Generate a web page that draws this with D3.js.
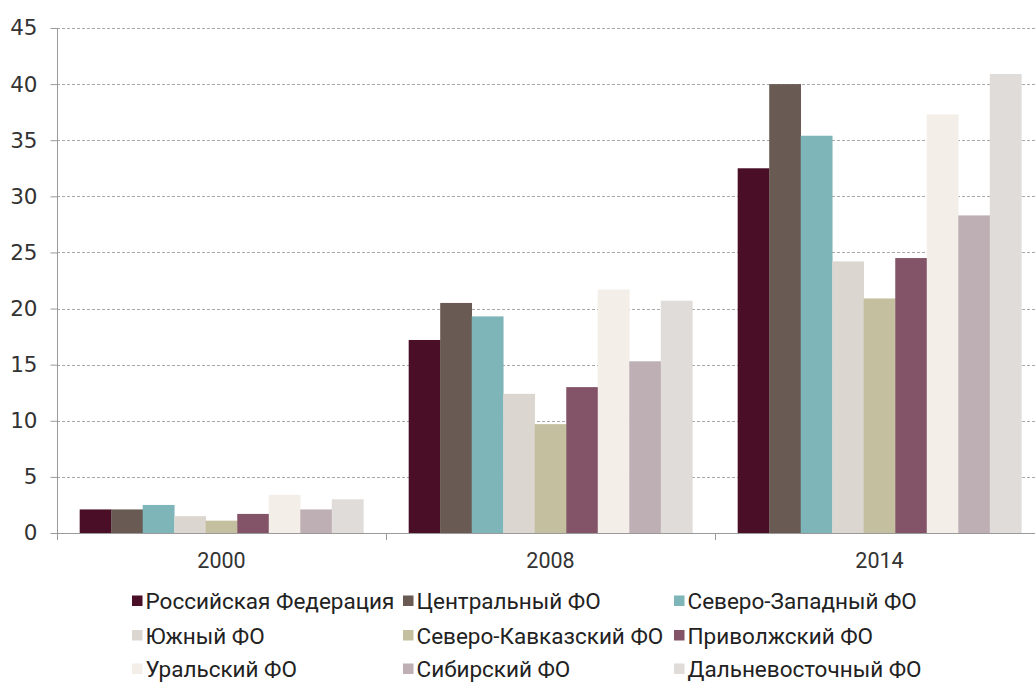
<!DOCTYPE html>
<html>
<head>
<meta charset="utf-8">
<script src="https://cdn.jsdelivr.net/npm/d3@7"></script>
<style>
  html, body { margin: 0; padding: 0; background: #fff; }
  svg { display: block; }
</style>
</head>
<body>
<svg id="chart" width="1035" height="683"></svg>
<script>
// ---- data ----
const years = ["2000", "2008", "2014"];
const regions = [
  "Российская Федерация", "Центральный ФО", "Северо-Западный ФО",
  "Южный ФО", "Северо-Кавказский ФО", "Приволжский ФО",
  "Уральский ФО", "Сибирский ФО", "Дальневосточный ФО"
];
const values2000 = [2.1, 2.1, 2.5, 1.5, 1.1, 1.7, 3.4, 2.1, 3.0];
const values2008 = [17.2, 20.5, 19.3, 12.4, 9.7, 13.0, 21.7, 15.3, 20.7];
const values2014 = [32.5, 40.0, 35.4, 24.2, 20.9, 24.5, 37.3, 28.3, 40.9];
const regionColors = [
  "#4a0e26", "#695a53", "#7db5b8",
  "#dbd6cf", "#c4bf9e", "#835468",
  "#f4eee9", "#beafb5", "#dfdcd9"
];
const yTicks = [0, 5, 10, 15, 20, 25, 30, 35, 40, 45];

const seriesByYear = [values2000, values2008, values2014];

const svg = d3.select("#chart");

const plotLeft = 57, plotRight = 1044, plotTop = 28, plotBottom = 533;

const x0 = d3.scaleBand().domain(years).range([plotLeft, plotRight]).paddingInner(0).paddingOuter(0);
const x1 = d3.scaleBand().domain(regions).range([0, x0.bandwidth()]).paddingInner(0).paddingOuter(0.72);
const y = d3.scaleLinear().domain([0, 45]).range([plotBottom, plotTop]);
const color = d3.scaleOrdinal().domain(regions).range(regionColors);

// gridlines
svg.append("g")
  .selectAll("line")
  .data(yTicks.filter(t => t > 0))
  .join("line")
  .attr("x1", plotLeft).attr("x2", 1035)
  .attr("y1", d => Math.round(y(d)) + 0.5).attr("y2", d => Math.round(y(d)) + 0.5)
  .attr("stroke", "#a8a8a8")
  .attr("stroke-width", 1)
  .attr("stroke-dasharray", "3,2");

// bars
const groups = svg.append("g")
  .selectAll("g")
  .data(years)
  .join("g")
  .attr("transform", d => `translate(${x0(d)},0)`);

groups.selectAll("rect")
  .data((d, i) => regions.map((r, j) => ({ region: r, value: seriesByYear[i][j] })))
  .join("rect")
  .attr("x", d => x1(d.region))
  .attr("width", x1.bandwidth() + 0.3)
  .attr("y", d => y(d.value))
  .attr("height", d => y(0) - y(d.value))
  .attr("fill", d => color(d.region));

// y axis
const yAxis = d3.axisLeft(y).tickValues(yTicks).tickSize(7).tickPadding(13).tickFormat(d3.format("d"));
const gy = svg.append("g")
  .attr("transform", `translate(${plotLeft + 0.5},0)`)
  .call(yAxis);
gy.select(".domain").remove();
gy.selectAll(".tick line").attr("stroke", "#9a9a9a");
gy.selectAll(".tick text")
  .attr("fill", "#333")
  .style("font-family", "'DejaVu Sans', sans-serif")
  .style("font-size", "21.5px");
svg.append("line")
  .attr("x1", plotLeft + 0.5).attr("x2", plotLeft + 0.5)
  .attr("y1", plotTop).attr("y2", plotBottom + 7)
  .attr("stroke", "#9a9a9a");

// x axis
const gx = svg.append("g")
  .attr("transform", `translate(0,${plotBottom + 0.5})`)
  .call(d3.axisBottom(x0).tickSize(0).tickPadding(19));
gx.select(".domain").remove();
gx.selectAll(".tick text")
  .attr("fill", "#333")
  .style("font-family", "Roboto, sans-serif")
  .style("font-size", "21.5px");
svg.append("line")
  .attr("x1", plotLeft).attr("x2", 1035)
  .attr("y1", plotBottom + 0.5).attr("y2", plotBottom + 0.5)
  .attr("stroke", "#9a9a9a");
svg.append("g")
  .selectAll("line")
  .data(years.slice(1))
  .join("line")
  .attr("x1", d => Math.round(x0(d)) + 0.5).attr("x2", d => Math.round(x0(d)) + 0.5)
  .attr("y1", plotBottom).attr("y2", plotBottom + 7)
  .attr("stroke", "#9a9a9a");

// legend
const legendCols = [132, 403, 674];
const legendRows = [601, 635.5, 669];
const legend = svg.append("g")
  .selectAll("g")
  .data(regions)
  .join("g")
  .attr("transform", (d, i) => `translate(${legendCols[i % 3]},${legendRows[Math.floor(i / 3)]})`);
legend.append("rect")
  .attr("x", 0).attr("y", -5.5)
  .attr("width", 10.5).attr("height", 10.5)
  .attr("fill", d => color(d));
legend.append("text")
  .attr("x", 13.5)
  .attr("y", 8)
  .attr("fill", "#222")
  .style("font-family", "Roboto, sans-serif")
  .style("font-size", "22.5px")
  .text(d => d);
</script>
</body>
</html>
